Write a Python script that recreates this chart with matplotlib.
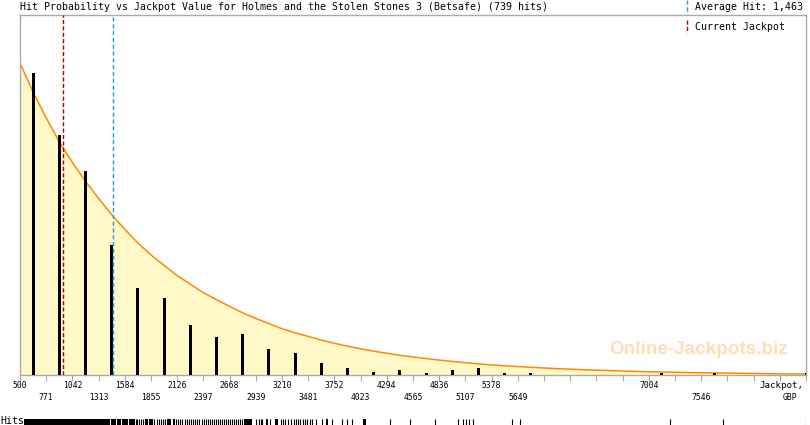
import matplotlib
matplotlib.use("Agg")
import matplotlib.pyplot as plt
from matplotlib.lines import Line2D
import numpy as np

plt.rcParams["lines.scale_dashes"] = False

# ---------------- data ----------------
title = "Hit Probability vs Jackpot Value for Holmes and the Stolen Stones 3 (Betsafe) (739 hits)"
bin_start = 500
bin_width = 271
n_bins = 30
hits_per_bin = [176, 140, 119, 76, 51, 45, 29, 22, 24, 15,
                13, 7, 4, 2, 3, 1, 3, 4, 1, 1,
                0, 0, 0, 0, 1, 0, 1, 0, 0, 0]
overflow_value = 8630
overflow_hits = 1

# fitted probability curve, read every half bin (same units as hits)
curve_y = [182, 165, 150, 136, 124, 113, 103, 93.5, 85, 77,
           70, 64, 58, 53, 48, 44, 40, 36.3, 33, 30,
           27, 24.6, 22.5, 20.4, 18.5, 16.8, 15.3, 13.9, 12.7, 11.5,
           10.5, 9.6, 8.7, 7.9, 7.2, 6.5, 5.9, 5.4, 4.9, 4.5,
           4.1, 3.7, 3.4, 3.1, 2.8, 2.55, 2.3, 2.1, 1.9, 1.75,
           1.6, 1.45, 1.3, 1.2, 1.1, 1.0, 0.9, 0.8, 0.7, 0.65, 0.6]

average_hit = 1463
current_jackpot = 947

top_labels = [500, 1042, 1584, 2126, 2668, 3210, 3752, 4294, 4836, 5378, 7004]
bottom_labels = [771, 1313, 1855, 2397, 2939, 3481, 4023, 4565, 5107, 5649, 7546]

# individual hits (rug)
rug_spans = [(541, 1431), (1441, 1493), (1503, 1545), (1555, 1617), (1627, 1689),
             (1793, 1824), (1834, 1876), (2020, 2062), (2082, 2103), (2817, 2900),
             (3044, 3070), (3137, 3168), (3665, 3686), (4048, 4079)]
rug_lines = [1700, 1710, 1731, 1751, 1772, 1886, 1917, 1938, 1958, 1979, 2000,
             2113, 2134, 2155, 2176, 2207, 2227, 2248, 2269, 2289, 2310, 2331,
             2351, 2382, 2403, 2424, 2444, 2465, 2486, 2507, 2527, 2548, 2569,
             2589, 2610, 2631, 2651, 2672, 2693, 2713, 2734, 2755, 2775, 2796,
             2941, 2972, 2993, 3003, 3086, 3200, 3220, 3241, 3272, 3303, 3334,
             3355, 3375, 3396, 3427, 3448, 3468, 3499, 3520, 3562, 3624, 3727,
             3830, 3882, 3934, 4327, 4534, 4792, 5030, 5082, 5113, 5144, 5185,
             5589, 5672, 7223, 7771, 8630]

# ---------------- figure ----------------
W, H = 810, 425
MONO = "DejaVu Sans Mono"
fig = plt.figure(figsize=(W / 100, H / 100), dpi=100)
fig.patch.set_facecolor("white")

edges = bin_start + bin_width * np.arange(n_bins + 1)
centers = edges[:-1] + bin_width / 2
curve_x = bin_start + (bin_width / 2) * np.arange(len(curve_y))

ax = fig.add_axes([20 / W, 50 / H, 786 / W, 360 / H])
ax.set_xlim(edges[0], edges[-1])
ax.set_ylim(0, 210)

ax.fill_between(curve_x, curve_y, 0, color="#FFF8C8", lw=0, zorder=1)
ax.plot(curve_x, curve_y, color="#FF8800", lw=1.1, zorder=2, solid_capstyle="butt")
ax.bar(centers, hits_per_bin, width=30, color="black", zorder=3, linewidth=0)
ax.bar([overflow_value], [overflow_hits], width=30, color="black", zorder=3, linewidth=0)

ax.axvline(current_jackpot, color="#B00000", lw=1.0, dashes=(3.0, 1.6), zorder=4)
ax.axvline(average_hit, color="#1E9BE0", lw=1.0, dashes=(3.0, 1.9), zorder=4)

for s in ax.spines.values():
    s.set_color("#AAAAAA")
    s.set_linewidth(1.0)
ax.set_yticks([])
ax.set_xticks(edges)
ax.tick_params(axis="x", length=4, width=0.8, color="#AAAAAA", labelbottom=False)

tr = ax.get_xaxis_transform()
for v in top_labels:
    ax.text(v, -11 / 360, str(v), transform=tr, ha="center", va="center",
            fontsize=5.8, family=MONO, color="black")
for v in bottom_labels:
    ax.text(v, -23 / 360, str(v), transform=tr, ha="center", va="center",
            fontsize=5.8, family=MONO, color="black")
fig.text(804 / W, (H - 386) / H, "Jackpot,", ha="right", va="center",
         fontsize=6.6, family=MONO)
fig.text(790 / W, (H - 398) / H, "GBP", ha="center", va="center",
         fontsize=5.8, family=MONO)

# watermark
fig.text(699 / W, (H - 354) / H, "Online-Jackpots.biz", ha="center", va="baseline",
         fontsize=13.6, fontweight="bold", family="Liberation Sans", color="#FFDDB6")

# title and legend
fig.text(20 / W, (H - 10) / H, title, ha="left", va="baseline", fontsize=7.15, family=MONO)
fig.text(695 / W, (H - 10) / H, "Average Hit: 1,463", ha="left", va="baseline",
         fontsize=7.15, family=MONO)
fig.text(695 / W, (H - 30) / H, "Current Jackpot", ha="left", va="baseline",
         fontsize=7.15, family=MONO)
fig.add_artist(Line2D([686.5 / W, 686.5 / W], [H / H, (H - 12) / H], color="#1E9BE0",
                      lw=1.0, dashes=(3.0, 1.9), transform=fig.transFigure))
fig.add_artist(Line2D([686.5 / W, 686.5 / W], [(H - 20) / H, (H - 33) / H], color="#B00000",
                      lw=1.0, dashes=(3.0, 1.6), transform=fig.transFigure))

# rug of hits
rax = fig.add_axes([20 / W, 0, 786 / W, 6 / H])
rax.set_xlim(edges[0], edges[-1])
rax.set_ylim(0, 1)
rax.axis("off")
for a, b in rug_spans:
    rax.axvspan(a, b, color="black", lw=0)
rax.vlines(rug_lines, 0, 1, color="black", lw=0.8)
fig.text(0, 1 / H, "Hits", ha="left", va="baseline", fontsize=7.15, family=MONO)

fig.savefig("out.png", dpi=100, facecolor="white")
